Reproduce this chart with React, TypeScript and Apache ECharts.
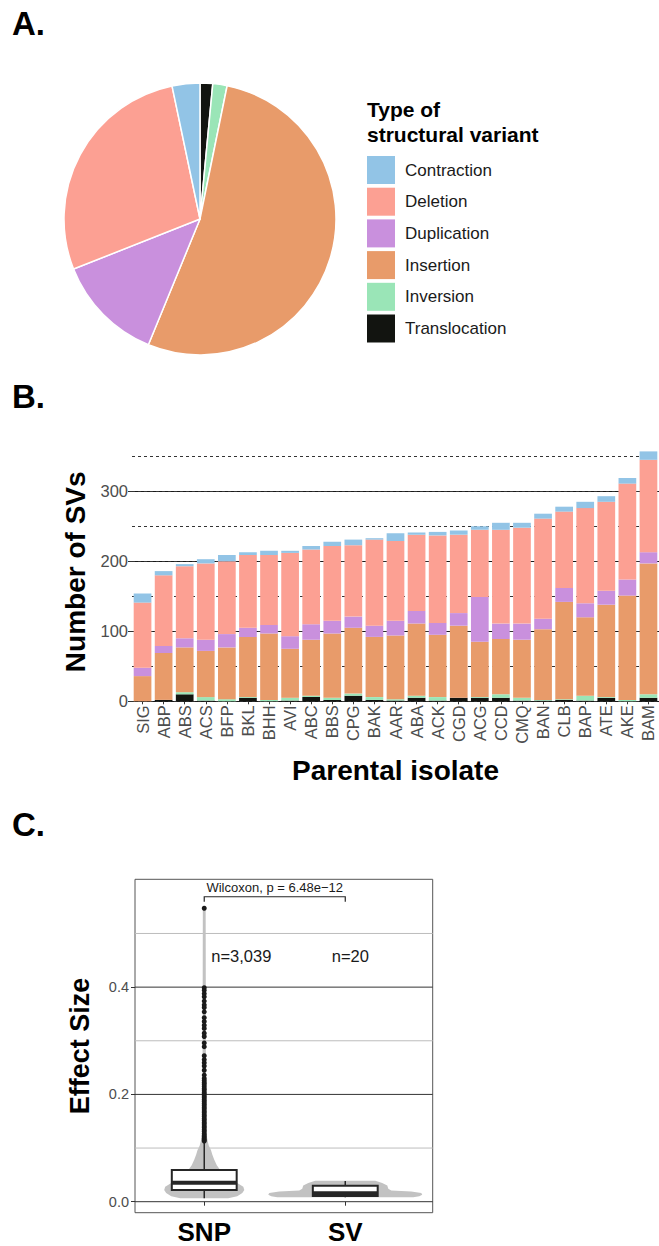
import React, { useEffect, useRef } from "react";
import * as echarts from "echarts";

const FONT = '"Liberation Sans", Arial, Helvetica, sans-serif';

// ---------- Panel A: pie ----------
const pieTypes = ["Translocation", "Inversion", "Insertion", "Duplication", "Deletion", "Contraction"];
const pieValues = [1.5, 1.7, 53.0, 12.8, 27.7, 3.3];
const legendOrder = ["Contraction", "Deletion", "Duplication", "Insertion", "Inversion", "Translocation"];
const typeColors: Record<string, string> = {
  Contraction: "#92C4E6",
  Deletion: "#FCA093",
  Duplication: "#C990DD",
  Insertion: "#E89B6A",
  Inversion: "#9AE5B7",
  Translocation: "#121410",
};

// ---------- Panel B: stacked bars ----------
const isolates = ["SIG", "ABP", "ABS", "ACS", "BFP", "BKL", "BHH", "AVI", "ABC", "BBS", "CPG", "BAK", "AAR", "ABA", "ACK", "CGD", "ACG", "CCD", "CMQ", "BAN", "CLB", "BAP", "ATE", "AKE", "BAM"];
const translocation = [0, 2, 10, 1, 0, 5, 0, 1, 6, 2, 8, 2, 1, 5, 1, 5, 5, 5, 1, 1, 2, 1, 5, 0, 5];
const inversion = [0, 0, 3, 5, 3, 1, 2, 4, 2, 3, 3, 4, 2, 3, 5, 0, 1, 5, 4, 1, 1, 7, 1, 2, 5];
const insertion = [36, 67, 64, 66, 74, 86, 95, 70, 80, 92, 94, 86, 91, 103, 89, 103, 79, 79, 83, 101, 139, 112, 132, 149, 187];
const duplication = [12, 10, 13, 16, 19, 13, 12, 18, 22, 18, 16, 16, 21, 18, 17, 18, 64, 22, 23, 15, 20, 20, 20, 23, 16];
const deletion = [93, 101, 103, 109, 104, 104, 100, 119, 107, 107, 102, 123, 114, 109, 125, 112, 96, 134, 137, 143, 109, 136, 127, 137, 132];
const contraction = [13, 6, 3, 6, 9, 4, 6, 3, 5, 6, 8, 2, 11, 3, 5, 6, 5, 10, 7, 7, 7, 9, 8, 8, 12];
const barStackOrder: [string, number[]][] = [
  ["Translocation", translocation],
  ["Inversion", inversion],
  ["Insertion", insertion],
  ["Duplication", duplication],
  ["Deletion", deletion],
  ["Contraction", contraction],
];

// ---------- Panel C: violin + box ----------
const groups = ["SNP", "SV"];
const boxLow = [0.0063, 0.0082];
const boxQ1 = [0.0218, 0.0106];
const boxMedian = [0.0354, 0.0158];
const boxQ3 = [0.059, 0.0298];
const boxHigh = [0.112, 0.0386];
const snpViolinY = [0.0063, 0.01, 0.016, 0.022, 0.028, 0.035, 0.042, 0.05, 0.059, 0.068, 0.078, 0.088, 0.096, 0.105, 0.112, 0.125, 0.16, 0.25, 0.4, 0.547];
const snpViolinHalf = [0.17, 0.234, 0.27, 0.284, 0.277, 0.234, 0.184, 0.142, 0.113, 0.089, 0.071, 0.057, 0.048, 0.032, 0.025, 0.016, 0.013, 0.012, 0.011, 0.01];
const svViolinY = [0.0082, 0.01, 0.013, 0.016, 0.019, 0.021, 0.024, 0.03, 0.035, 0.039];
const svViolinHalf = [0.482, 0.525, 0.546, 0.539, 0.468, 0.326, 0.305, 0.298, 0.262, 0.213];
const snpOutliers = [0.547, 0.399, 0.394, 0.388, 0.382, 0.374, 0.367, 0.362, 0.354, 0.343, 0.336, 0.329, 0.323, 0.314, 0.308, 0.296, 0.289, 0.272, 0.265, 0.259, 0.253, 0.245, 0.236, 0.23, 0.226, 0.222, 0.219, 0.215, 0.211, 0.208, 0.204, 0.201, 0.197, 0.194, 0.19, 0.187, 0.183, 0.18, 0.176, 0.173, 0.169, 0.166, 0.162, 0.159, 0.155, 0.152, 0.148, 0.145, 0.141, 0.138, 0.134, 0.131, 0.127, 0.124, 0.121, 0.118, 0.115, 0.113];
const sampleLabels = ["n=3,039", "n=20"];
const sampleLabelX = [1.05, 1.904];
const sampleLabelY = [0.458, 0.458];
const boxMajorGrid = [0, 0.2, 0.4];
const boxMinorGrid = [0.1, 0.3, 0.5];
const testLabel = "Wilcoxon, p = 6.48e\u221212";
const bracketY = 0.5685;
const bracketTickY = 0.559;
const testLabelY = 0.585;

const violins = [
  { ys: snpViolinY, hw: snpViolinHalf },
  { ys: svViolinY, hw: svViolinHalf },
];

export default function App() {
  const ref = useRef<HTMLDivElement>(null);
  useEffect(() => {
    if (!ref.current) return;
    const chart = echarts.init(ref.current, undefined, { renderer: "svg" });
    const BOX_HALF = 0.23;

    const option: any = {
      animation: false,
      textStyle: { fontFamily: FONT },
      legend: {
        data: legendOrder,
        orient: "vertical",
        left: 367,
        top: 156,
        padding: 0,
        itemWidth: 28,
        itemHeight: 28,
        itemGap: 3.7,
        icon: "rect",
        selectedMode: false,
        textStyle: { fontSize: 17, color: "#1a1a1a", padding: [0, 0, 0, 5], fontFamily: FONT },
      },
      graphic: [
        { type: "text", left: 12, top: 7, style: { text: "A.", font: `bold 33px ${FONT}`, fill: "#000" } },
        { type: "text", left: 12, top: 380, style: { text: "B.", font: `bold 33px ${FONT}`, fill: "#000" } },
        { type: "text", left: 12, top: 808, style: { text: "C.", font: `bold 33px ${FONT}`, fill: "#000" } },
        {
          type: "text",
          left: 367,
          top: 97,
          style: { text: "Type of\nstructural variant", font: `bold 21px ${FONT}`, fill: "#000", lineHeight: 25 },
        },
      ],
      grid: [
        { left: 132, top: 442.3, width: 528, height: 259, containLabel: false },
        {
          left: 135,
          top: 879.3,
          width: 297.7,
          height: 333.4,
          containLabel: false,
          show: true,
          borderColor: "#555",
          borderWidth: 1,
          backgroundColor: "transparent",
        },
      ],
      xAxis: [
        {
          gridIndex: 0,
          type: "category",
          data: isolates,
          axisLine: { show: false },
          axisTick: { show: true, length: 3, alignWithLabel: true, lineStyle: { color: "#333" } },
          axisLabel: { rotate: 90, interval: 0, fontSize: 16.5, color: "#4d4d4d", margin: 4 },
          name: "Parental isolate",
          nameLocation: "middle",
          nameGap: 55,
          nameTextStyle: { fontSize: 28, fontWeight: "bold", color: "#000" },
        },
        {
          gridIndex: 1,
          type: "value",
          min: 0.509,
          max: 2.62,
          axisLine: { show: false },
          splitLine: { show: false },
          axisTick: { show: true, length: 4, customValues: [1, 2], lineStyle: { color: "#333" } },
          axisLabel: {
            customValues: [1, 2],
            formatter: (v: number) => groups[Math.round(v) - 1] ?? "",
            fontSize: 26,
            lineHeight: 24,
            fontWeight: "bold",
            color: "#000",
            margin: 7,
          },
        },
      ],
      yAxis: [
        {
          gridIndex: 0,
          type: "value",
          min: 0,
          max: 370,
          interval: 100,
          axisLine: { show: false },
          axisTick: { show: true, length: 4, lineStyle: { color: "#333" } },
          axisLabel: { fontSize: 16.5, color: "#4d4d4d", margin: 4, showMaxLabel: false },
          splitLine: { show: true, showMaxLine: false, lineStyle: { color: "#1a1a1a", width: 1 } },
          name: "Number of SVs",
          nameLocation: "middle",
          nameGap: 42,
          nameTextStyle: { fontSize: 28, fontWeight: "bold", color: "#000" },
        },
        {
          gridIndex: 0,
          type: "value",
          min: 0,
          max: 370,
          interval: 50,
          position: "right",
          axisLine: { show: false },
          axisTick: { show: false },
          axisLabel: { show: false },
          splitLine: { show: true, showMaxLine: false, lineStyle: { color: "#333", width: 1, type: [3, 3] } },
        },
        {
          gridIndex: 1,
          type: "value",
          min: -0.0205,
          max: 0.601,
          axisLine: { show: false },
          splitLine: { show: false },
          axisTick: { show: true, length: 4, customValues: boxMajorGrid, lineStyle: { color: "#333" } },
          axisLabel: {
            customValues: boxMajorGrid,
            formatter: (v: number) => v.toFixed(1),
            fontSize: 14.5,
            color: "#4d4d4d",
            margin: 6,
          },
          name: "Effect Size",
          nameLocation: "middle",
          nameGap: 42,
          nameTextStyle: { fontSize: 27, fontWeight: "bold", color: "#000" },
        },
      ],
      series: [
        {
          type: "pie",
          center: [200, 219],
          radius: 136,
          startAngle: 90,
          clockwise: true,
          label: { show: false },
          labelLine: { show: false },
          emphasis: { disabled: true },
          itemStyle: { borderColor: "#fff", borderWidth: 1.5 },
          data: pieTypes.map((name, i) => ({ name, value: pieValues[i], itemStyle: { color: typeColors[name] } })),
        },
        ...barStackOrder.map(([name, values]) => ({
          type: "bar",
          name,
          stack: "sv",
          xAxisIndex: 0,
          yAxisIndex: 0,
          barWidth: "84%",
          itemStyle: { color: typeColors[name] },
          emphasis: { disabled: true },
          data: values,
        })),
        // gridlines for panel C
        {
          type: "custom",
          xAxisIndex: 1,
          yAxisIndex: 2,
          z: 1,
          silent: true,
          data: [...boxMajorGrid.map((v) => [1, v, 1]), ...boxMinorGrid.map((v) => [1, v, 0])],
          renderItem: (params: any, api: any) => {
            const cs = params.coordSys;
            const y = api.coord([1, api.value(1)])[1];
            const major = api.value(2) === 1;
            return {
              type: "line",
              shape: { x1: cs.x, y1: y, x2: cs.x + cs.width, y2: y },
              style: { stroke: major ? "#333" : "#bdbdbd", lineWidth: 1 },
            };
          },
        },
        // violins + boxes
        {
          type: "custom",
          xAxisIndex: 1,
          yAxisIndex: 2,
          z: 2,
          silent: true,
          data: groups.map((_, i) => [i + 1, boxMedian[i]]),
          renderItem: (params: any, api: any) => {
            const i = params.dataIndex;
            const x = api.value(0);
            const v = violins[i];
            const right = v.ys.map((y, k) => api.coord([x + v.hw[k], y]));
            const left = v.ys.map((y, k) => api.coord([x - v.hw[k], y])).reverse();
            const q1 = api.coord([x - BOX_HALF, boxQ3[i]]);
            const q2 = api.coord([x + BOX_HALF, boxQ1[i]]);
            const c = api.coord([x, 0]);
            const hi = api.coord([x, boxHigh[i]]);
            const lo = api.coord([x, boxLow[i]]);
            const q3y = api.coord([x, boxQ3[i]])[1];
            const q1y = api.coord([x, boxQ1[i]])[1];
            const med = api.coord([x, boxMedian[i]])[1];
            const ink = "#262626";
            return {
              type: "group",
              children: [
                {
                  type: "polygon",
                  shape: { points: [...right, ...left] },
                  style: { fill: "#c2c2c2", stroke: "none" },
                },
                { type: "line", shape: { x1: c[0], y1: q3y, x2: c[0], y2: hi[1] }, style: { stroke: ink, lineWidth: 1.5 } },
                { type: "line", shape: { x1: c[0], y1: q1y, x2: c[0], y2: lo[1] }, style: { stroke: ink, lineWidth: 1.5 } },
                {
                  type: "rect",
                  shape: { x: q1[0], y: q1[1], width: q2[0] - q1[0], height: q2[1] - q1[1] },
                  style: { fill: "#fff", stroke: ink, lineWidth: 2 },
                },
                { type: "line", shape: { x1: q1[0], y1: med, x2: q2[0], y2: med }, style: { stroke: ink, lineWidth: 4 } },
              ],
            };
          },
        },
        {
          type: "scatter",
          xAxisIndex: 1,
          yAxisIndex: 2,
          z: 3,
          silent: true,
          symbolSize: 5,
          itemStyle: { color: "#1a1a1a", opacity: 1 },
          data: snpOutliers.map((v) => [1, v]),
        },
        // annotations
        {
          type: "custom",
          xAxisIndex: 1,
          yAxisIndex: 2,
          z: 4,
          silent: true,
          data: [[1, 2]],
          renderItem: (params: any, api: any) => {
            const a = api.coord([1, bracketTickY]);
            const b = api.coord([1, bracketY]);
            const c = api.coord([2, bracketY]);
            const d = api.coord([2, bracketTickY]);
            const t = api.coord([1.5, testLabelY]);
            const children: any[] = [
              { type: "polyline", shape: { points: [a, b, c, d] }, style: { stroke: "#262626", lineWidth: 1.2, fill: "none" } },
              {
                type: "text",
                x: t[0],
                y: t[1],
                style: { text: testLabel, font: `13px ${FONT}`, fill: "#1a1a1a", align: "center", verticalAlign: "middle" },
              },
            ];
            sampleLabels.forEach((s, k) => {
              const p = api.coord([sampleLabelX[k], sampleLabelY[k]]);
              children.push({
                type: "text",
                x: p[0],
                y: p[1],
                style: { text: s, font: `16.5px ${FONT}`, fill: "#1a1a1a", align: "left", verticalAlign: "middle" },
              });
            });
            return { type: "group", children };
          },
        },
      ],
    };
    chart.setOption(option);
    return () => chart.dispose();
  }, []);
  return <div ref={ref} style={{ position: "absolute", left: 0, top: 0, width: 659, height: 1246 }} />;
}
